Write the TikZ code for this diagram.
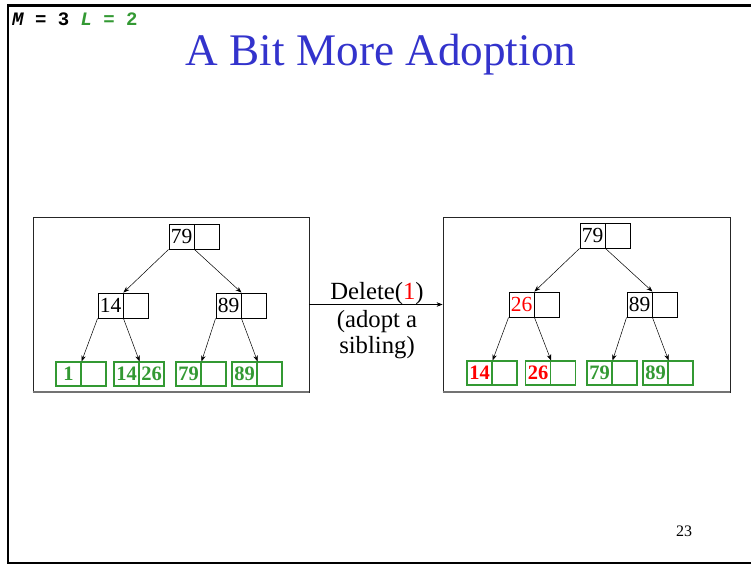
\documentclass[tikz,border=0pt]{standalone}
\usepackage{fontspec}
\setmainfont{Liberation Serif}
\setmonofont{Liberation Mono}
\usetikzlibrary{arrows.meta}

\definecolor{titleblue}{RGB}{51,51,204}
\definecolor{leafgreen}{RGB}{51,153,51}
\definecolor{keyred}{RGB}{255,0,0}

\tikzset{
  key/.style={draw=black, line width=0.9pt, minimum width=25pt, minimum height=25pt,
    inner sep=0pt, font=\fontsize{21.5}{21.5}\selectfont},
  leaf/.style={draw=leafgreen, line width=1.1pt, minimum width=25pt, minimum height=24pt,
    inner sep=0pt, text=leafgreen, font=\bfseries\fontsize{20.5}{20.5}\selectfont},
  ptr/.style={-{Stealth[length=6pt,width=4.5pt]}, line width=0.5pt},
  panel/.style={draw=black!85, line width=0.8pt, inner sep=0pt},
  panelshadow/.style={draw=black!55, line width=2pt},
  caption/.style={anchor=base, font=\fontsize{24.7}{24.7}\selectfont, inner sep=0pt},
}

\begin{document}
\begin{tikzpicture}[x=1pt, y=-1pt]
\useasboundingbox (0,0) rectangle (751,565);

% slide frame
\draw[line width=2.5pt] (751,5.5) -- (8,5.5) -- (8,563) -- (751,563);

% parameters in the corner
\node[anchor=base west, inner sep=0pt, font=\ttfamily\bfseries\fontsize{19}{19}\selectfont]
  (params) at (12,25.5) {{\itshape M} = 3 \textcolor{leafgreen}{{\itshape L} = 2}};

% title
\node[anchor=base, inner sep=0pt, text=titleblue, font=\fontsize{45.2}{45.2}\selectfont]
  (title) at (381,65) {A Bit More Adoption};

% panels
\node[panel, minimum width=276pt, minimum height=175pt] (lp) at (171,304.5) {};
\node[panel, minimum width=287pt, minimum height=175pt] (rp) at (586.5,304.5) {};
\draw[panelshadow] (lp.south west) -- (lp.south east);
\draw[panelshadow] (rp.south west) -- (rp.south east);

% ---- tree before the deletion ----
\node[key] (Lr1) at (181.5,236.5) {79};
\node[key] (Lr2) at (206.5,236.5) {};
\node[key] (La1) at (110.5,305.5) {14};
\node[key] (La2) at (135.5,305.5) {};
\node[key] (Lb1) at (228.5,305.5) {89};
\node[key] (Lb2) at (253.5,305.5) {};
\node[leaf] (Lp1) at (68.5,374) {1};
\node[leaf] (Lp2) at (93.5,374) {};
\node[leaf] (Lq1) at (126.5,374) {14};
\node[leaf] (Lq2) at (151.5,374) {26};
\node[leaf] (Ls1) at (188.5,374) {79};
\node[leaf] (Ls2) at (213.5,374) {};
\node[leaf] (Lt1) at (244.5,374) {89};
\node[leaf] (Lt2) at (269.5,374) {};

\draw[ptr] (Lr1.south west) -- (La1.north east);
\draw[ptr] (Lr1.south east) -- (Lb1.north east);
\draw[ptr] (La1.south west) -- (Lp1.north east);
\draw[ptr] (La1.south east) -- (Lq1.north east);
\draw[ptr] (Lb1.south west) -- (Ls1.north east);
\draw[ptr] (Lb1.south east) -- (Lt1.north east);

% ---- tree after the deletion ----
\node[key] (Rr1) at (592.5,235.5) {79};
\node[key] (Rr2) at (617.5,235.5) {};
\node[key, text=keyred] (Ra1) at (521.5,304.5) {26};
\node[key] (Ra2) at (546.5,304.5) {};
\node[key] (Rb1) at (639.5,304.5) {89};
\node[key] (Rb2) at (664.5,304.5) {};
\node[leaf, text=keyred] (Rp1) at (479.5,373) {14};
\node[leaf] (Rp2) at (504.5,373) {};
\node[leaf, text=keyred] (Rq1) at (538,373) {26};
\node[leaf] (Rq2) at (563,373) {};
\node[leaf] (Rs1) at (599.5,373) {79};
\node[leaf] (Rs2) at (624.5,373) {};
\node[leaf] (Rt1) at (655.5,373) {89};
\node[leaf] (Rt2) at (680.5,373) {};

\draw[ptr] (Rr1.south west) -- (Ra1.north east);
\draw[ptr] (Rr1.south east) -- (Rb1.north east);
\draw[ptr] (Ra1.south west) -- (Rp1.north east);
\draw[ptr] (Ra1.south east) -- (Rq1.north east);
\draw[ptr] (Rb1.south west) -- (Rs1.north east);
\draw[ptr] (Rb1.south east) -- (Rt1.north east);

% operation between the panels
\draw[ptr] (lp.east) -- (rp.west);
\node[caption] (op1) at (377,299) {Delete(\textcolor{keyred}{1})};
\node[caption] (op2) at (377,327) {(adopt a};
\node[caption] (op3) at (377,353) {sibling)};

% slide number
\node[anchor=base, inner sep=0pt, font=\fontsize{16}{16}\selectfont] (pagenum) at (684,536) {23};
\end{tikzpicture}
\end{document}
